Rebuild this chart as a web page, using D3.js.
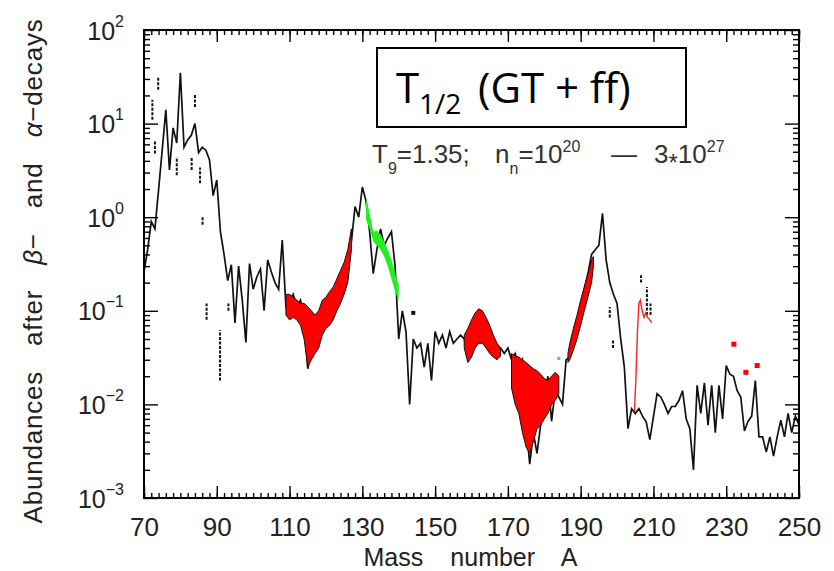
<!DOCTYPE html>
<html><head><meta charset="utf-8">
<script src="https://cdn.jsdelivr.net/npm/d3@7"></script>
<style>
html,body{margin:0;padding:0;background:#fff;}
svg{display:block;}
</style></head><body>
<svg id="chart" width="834" height="571"></svg>
<script>
// ---------------- data ----------------
const massStart = 70; // first mass number of the abundance curve (one value per A)
const abundances = [
  0.26, 0.45, 0.9, 0.75, 1.95, 5.2, 14, 3.2, 9, 6.2,
  35, 5.6, 6.7, 7.5, 10, 4.9, 5.6, 5.2, 4.1, 1.7,
  2.5, 0.7, 0.4, 0.21, 0.31, 0.074, 0.3, 0.13, 0.046, 0.32,
  0.17, 0.23, 0.28, 0.1, 0.35, 0.26, 0.2, 0.17, 0.57, 0.11,
  0.12, 0.15, 0.11, 0.13, 0.09, 0.024, 0.04, 0.06, 0.045, 0.07,
  0.09, 0.08, 0.12, 0.15, 0.2, 0.25, 0.35, 0.55, 1.3, 1.0,
  2.1, 1.5, 0.7, 0.25, 0.45, 0.75, 0.5, 0.6, 0.7, 0.3,
  0.05, 0.1, 0.06, 0.01, 0.05, 0.04, 0.045, 0.025, 0.045, 0.018,
  0.06, 0.045, 0.055, 0.04, 0.06, 0.045, 0.05, 0.055, 0.05, 0.035,
  0.06, 0.08, 0.1, 0.085, 0.07, 0.05, 0.045, 0.035, 0.04, 0.035,
  0.04, 0.03, 0.035, 0.025, 0.03, 0.006, 0.0023, 0.005, 0.003, 0.006,
  0.01, 0.02, 0.0066, 0.014, 0.012, 0.01, 0.03, 0.032, 0.05, 0.075,
  0.12, 0.17, 0.25, 0.4, 0.45, 0.5, 1.1, 0.35, 0.2, 0.15,
  0.12, 0.05, 0.025, 0.0055, 0.009, 0.008, 0.009, 0.0075, 0.0065, 0.0042,
  0.0074, 0.013, 0.012, 0.01, 0.008, 0.0095, 0.0095, 0.011, 0.014, 0.007,
  0.0055, 0.002, 0.016, 0.008, 0.017, 0.006, 0.016, 0.005, 0.016, 0.007,
  0.026, 0.021, 0.02, 0.014, 0.012, 0.0052, 0.0066, 0.0075, 0.018, 0.0045,
  0.0045, 0.0031, 0.0045, 0.0028, 0.0045, 0.0068, 0.0045, 0.008, 0.005, 0.0075,
  0.006
];

// red bands (range of abundances)
const red1Mass = [109,110,111,112,113,114,115,116,117,118,119,120,121,122,123,124,125,126,127];
const red1Low  = [0.09,0.08,0.085,0.08,0.07,0.05,0.025,0.03,0.035,0.04,0.055,0.065,0.07,0.08,0.1,0.12,0.15,0.2,0.45];
const red1High = [0.15,0.15,0.14,0.13,0.12,0.12,0.11,0.1,0.09,0.1,0.13,0.14,0.16,0.18,0.22,0.27,0.33,0.45,0.75];

const red2Mass = [158,159,160,161,162,163,164,165,166,167,168];
const red2Low  = [0.04,0.028,0.032,0.04,0.045,0.045,0.04,0.035,0.032,0.03,0.033];
const red2High = [0.055,0.065,0.08,0.095,0.105,0.1,0.085,0.07,0.055,0.045,0.04];

const red3Mass = [171,172,173,174,175,176,177,178,179,180,181,182,183,184];
const red3Low  = [0.015,0.01,0.008,0.005,0.0035,0.003,0.004,0.0055,0.006,0.007,0.008,0.01,0.011,0.013];
const red3High = [0.035,0.033,0.032,0.03,0.028,0.026,0.024,0.023,0.021,0.019,0.018,0.02,0.022,0.02];

const red4Mass = [186.5,187,188,189,190,191,192,193,193.5];
const red4Low  = [0.028,0.03,0.038,0.05,0.07,0.1,0.14,0.2,0.3];
const red4High = [0.035,0.045,0.065,0.09,0.13,0.18,0.25,0.35,0.38];

// green band
const greenMass = [131,132,133,134,135,136,137,138,139,140];
const greenLow  = [0.95,0.75,0.55,0.5,0.45,0.38,0.3,0.22,0.16,0.13];
const greenHigh = [1.6,1.1,0.7,0.72,0.65,0.55,0.45,0.35,0.25,0.19];

// red line (A = 205-209)
const redLineMass = [204.8,205.2,205.6,206.0,206.4,206.9,207.4,207.9,208.4,209.0,209.5];
const redLineValue = [0.0085,0.02,0.06,0.12,0.13,0.1,0.085,0.095,0.085,0.08,0.075];

// isolated red points
const redDotMass = [232.1,235.4,238.5];
const redDotValue = [0.044,0.022,0.026];

// isolated black vertical marks (A, low, high)
const markMass = [72.3,73.9,84,73,79,83.1,85.4,86.1,87.2,90.9,93.2,198,198.9,206.6,208.2,209.2];
const markLow  = [11,23,15,4.8,2.8,3.2,2.3,0.83,0.08,0.018,0.1,0.085,0.04,0.2,0.09,0.09];
const markHigh = [18,32,21,6.7,4.4,4.4,3.4,1.0,0.12,0.062,0.12,0.11,0.049,0.24,0.18,0.12];

// isolated dots
const blackDot = [144, 0.095];
const greenDot = [184, 0.031];

// ticks
const xTickLabels = [70,90,110,130,150,170,190,210,230,250];
const xMinorStep = 2;
const yDecadeExponents = [-3,-2,-1,0,1,2];

// ---------------- chart ----------------
const L = 144, R = 799, T = 30, B = 498;
const svg = d3.select('#chart');
const FONT = "'Liberation Sans', Arial, Helvetica, sans-serif";

const x = d3.scaleLinear().domain([70,250]).range([L,R]);
const y = d3.scaleLog().domain([1e-3,1e2]).range([B,T]);

const xMinor = d3.range(70, 251, xMinorStep);
const yMajor = yDecadeExponents.map(e => Math.pow(10, e));
const yMinor = [];
yDecadeExponents.slice(0,-1).forEach(e => { for (let m=2;m<=9;m++) yMinor.push(m*Math.pow(10,e)); });

svg.append('defs').append('clipPath').attr('id','plotclip')
  .append('rect').attr('x',L).attr('y',T).attr('width',R-L).attr('height',B-T);

const plot = svg.append('g').attr('clip-path','url(#plotclip)');

// black curve
const mainData = abundances.map((v,i) => [massStart+i, v]);
const line = d3.line().x(d => x(d[0])).y(d => y(d[1]));
plot.append('path').datum(mainData).attr('d', line)
  .attr('fill','none').attr('stroke','#111').attr('stroke-width',1.7).attr('stroke-linejoin','miter');

// black marks
plot.selectAll('line.mark').data(markMass.map((m,i)=>({m, lo:markLow[i], hi:markHigh[i]})))
  .enter().append('line').attr('class','mark')
  .attr('x1', d=>x(d.m)).attr('x2', d=>x(d.m))
  .attr('y1', d=>y(d.lo)).attr('y2', d=>y(d.hi))
  .attr('stroke','#111').attr('stroke-width',2).attr('stroke-dasharray','3,1.5');

// bands
const area = d3.area().x(d=>x(d[0])).y0(d=>y(d[1])).y1(d=>y(d[2]));
function band(mass, lo, hi, color, stroke) {
  const data = mass.map((m,i)=>[m, lo[i], hi[i]]);
  plot.append('path').datum(data).attr('d', area)
    .attr('fill', color).attr('stroke', stroke).attr('stroke-width', 1);
}
band(red1Mass, red1Low, red1High, '#ff0000', '#111');
band(red2Mass, red2Low, red2High, '#ff0000', '#111');
band(red3Mass, red3Low, red3High, '#ff0000', '#111');
band(red4Mass, red4Low, red4High, '#ff0000', '#111');
band(greenMass, greenLow, greenHigh, '#22ee22', 'none');

// red line
plot.append('path').datum(redLineMass.map((m,i)=>[m, redLineValue[i]])).attr('d', line)
  .attr('fill','none').attr('stroke','#ff2020').attr('stroke-width',1.4);

// red dots
plot.selectAll('rect.rdot').data(redDotMass.map((m,i)=>[m, redDotValue[i]]))
  .enter().append('rect').attr('class','rdot')
  .attr('x', d=>x(d[0])-2.5).attr('y', d=>y(d[1])-2.5).attr('width',5).attr('height',5)
  .attr('fill','#ff0000');
plot.append('rect').attr('x', x(blackDot[0])-2).attr('y', y(blackDot[1])-2)
  .attr('width',4).attr('height',4).attr('fill','#111');
plot.append('rect').attr('x', x(greenDot[0])-1.5).attr('y', y(greenDot[1])-1.5)
  .attr('width',3).attr('height',3).attr('fill','#22ee22');

// ---------- axes ----------
function styleAxis(g) {
  g.select('.domain').remove();
  g.selectAll('.tick line').attr('stroke','#000').attr('stroke-width',1.4);
}
// bottom
svg.append('g').attr('transform',`translate(0,${B})`)
  .call(d3.axisBottom(x).tickValues(xMinor).tickSizeInner(-5).tickSizeOuter(0).tickFormat(''))
  .call(styleAxis);
const xb = svg.append('g').attr('transform',`translate(0,${B})`)
  .call(d3.axisBottom(x).tickValues(xTickLabels).tickSizeInner(-12).tickSizeOuter(0).tickPadding(20).tickFormat(d3.format('d')))
  .call(styleAxis);
xb.selectAll('.tick text').attr('font-family',FONT).attr('font-size',26).attr('fill','#222');
// top
svg.append('g').attr('transform',`translate(0,${T})`)
  .call(d3.axisTop(x).tickValues(xMinor).tickSizeInner(-5).tickSizeOuter(0).tickFormat(''))
  .call(styleAxis);
svg.append('g').attr('transform',`translate(0,${T})`)
  .call(d3.axisTop(x).tickValues(xTickLabels).tickSizeInner(-12).tickSizeOuter(0).tickFormat(''))
  .call(styleAxis);
// left
svg.append('g').attr('transform',`translate(${L},0)`)
  .call(d3.axisLeft(y).tickValues(yMinor).tickSizeInner(-6).tickSizeOuter(0).tickFormat(''))
  .call(styleAxis);
const yl = svg.append('g').attr('transform',`translate(${L},0)`)
  .call(d3.axisLeft(y).tickValues(yMajor).tickSizeInner(-14).tickSizeOuter(0).tickPadding(20).tickFormat(''))
  .call(styleAxis);
yl.selectAll('.tick text').each(function(d){
  const t = d3.select(this);
  t.attr('font-family',FONT).attr('font-size',25).attr('fill','#222').attr('dy','0.36em');
  t.append('tspan').text('10');
  const e = Math.round(Math.log10(d));
  t.append('tspan').attr('font-size',16).attr('dy',-13).text(e<0 ? '\u2212'+(-e) : String(e));
});
// right
svg.append('g').attr('transform',`translate(${R},0)`)
  .call(d3.axisRight(y).tickValues(yMinor).tickSizeInner(-6).tickSizeOuter(0).tickFormat(''))
  .call(styleAxis);
svg.append('g').attr('transform',`translate(${R},0)`)
  .call(d3.axisRight(y).tickValues(yMajor).tickSizeInner(-14).tickSizeOuter(0).tickFormat(''))
  .call(styleAxis);

// frame
svg.append('rect').attr('x',L).attr('y',T).attr('width',R-L).attr('height',B-T)
  .attr('fill','none').attr('stroke','#000').attr('stroke-width',2);

// ---------- axis titles ----------
const xt = svg.append('text').attr('x',(L+R)/2 - 1).attr('y',565.5).attr('text-anchor','middle')
  .attr('font-family',FONT).attr('font-size',25).attr('fill','#222').text('Mass number A');
{
  const nat = xt.node().getComputedTextLength();
  xt.attr('word-spacing', Math.max(0,(214-nat)/2));
}
const yt = svg.append('text').attr('transform','translate(42,271) rotate(-90)')
  .attr('text-anchor','middle').attr('font-family',FONT).attr('font-size',26).attr('fill','#222')
  .attr('letter-spacing',0.8);
yt.append('tspan').text('Abundances after ');
yt.append('tspan').attr('font-style','italic').text('\u03B2');
yt.append('tspan').text('\u2212 and ');
yt.append('tspan').attr('font-style','italic').text('\u03B1');
yt.append('tspan').text('\u2212decays');
{
  const nat = yt.node().getComputedTextLength();
  yt.attr('word-spacing', Math.max(0,(505-nat)/4));
}

// ---------- legend box ----------
svg.append('rect').attr('x',377).attr('y',48).attr('width',309).attr('height',79)
  .attr('fill','#fff').attr('stroke','#000').attr('stroke-width',2);
const lg = svg.append('text').attr('font-family',"'Open Sans', sans-serif").attr('fill','#000');
lg.append('tspan').attr('x',396).attr('y',103).attr('font-size',42).text('T');
lg.append('tspan').attr('x',419).attr('y',114).attr('font-size',28).text('1/2');
lg.append('tspan').attr('x',478).attr('y',103).attr('font-size',42).text('(GT + ff)');

// ---------- condition text ----------
const cond = svg.append('text').attr('font-family',FONT).attr('fill','#333').attr('font-size',26);
// [text, x (null = flow), baseline y, font size]
[
  ['T',372,163,26], ['9',null,174,16], ['=1.35;',null,163,26],
  ['n',495,163,26], ['n',null,174,16], ['=10',null,163,26], ['20',null,152,16],
  ['\u2014',611,163,26], ['3',654,163,26], ['*',null,171,24], ['10',null,163,26], ['27',null,152,16]
].forEach(p => {
  const ts = cond.append('tspan').attr('y',p[2]).attr('font-size',p[3]).text(p[0]);
  if (p[1] !== null) ts.attr('x',p[1]);
});
</script>
</body></html>
